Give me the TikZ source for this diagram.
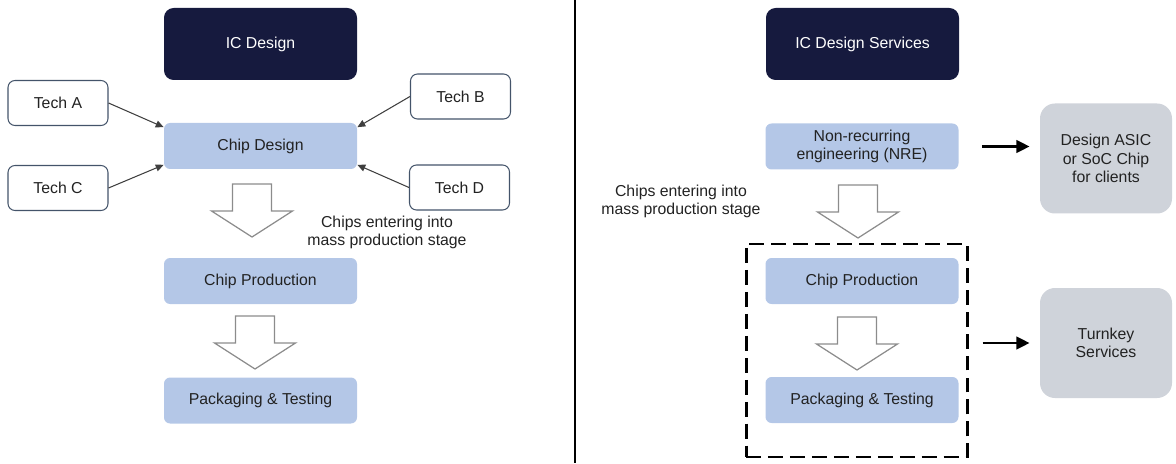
\documentclass[tikz,border=0pt]{standalone}
\usepackage{fontspec}
\setmainfont{Liberation Sans}
\usetikzlibrary{arrows.meta, positioning}
\definecolor{icnavy}{HTML}{161A3E}
\definecolor{stageblue}{HTML}{B4C7E7}
\definecolor{outgrey}{HTML}{CFD3DA}
\definecolor{techedge}{HTML}{44546A}
\definecolor{feedgray}{HTML}{3F3F3F}
\definecolor{hollowgray}{HTML}{8C8C8C}
\definecolor{txtdark}{HTML}{222222}

\begin{document}
\begin{tikzpicture}[
  >={Triangle[length=4.5pt, width=4pt]},
  font=\fontsize{9}{10.5}\selectfont,
  every node/.style={text=txtdark},
  header/.style={fill=icnavy, rounded corners=5.5pt, minimum width=3.86cm,
    minimum height=1.44cm, text=white},
  stage/.style={fill=stageblue, rounded corners=3.5pt, minimum width=3.86cm,
    minimum height=0.92cm, align=center},
  tech/.style={draw=techedge, line width=0.6pt, fill=white, rounded corners=4pt,
    minimum width=2.0cm, minimum height=0.9cm},
  outcome/.style={fill=outgrey, rounded corners=8.5pt, minimum width=2.64cm,
    minimum height=2.2cm, align=center},
  note/.style={align=center},
  feed/.style={->, line width=0.6pt, draw=feedgray},
  bigflow/.style={-{Triangle[length=7.5pt, width=7pt]}, line width=1.7pt},
  hollow/.style={draw=hollowgray, line width=0.7pt, fill=white, line join=miter},
  downblock/.pic={
    \draw[hollow] (-0.39,0) -- (0.39,0) -- (0.39,-0.54) -- (0.81,-0.54)
      -- (0,-1.06) -- (-0.81,-0.54) -- (-0.39,-0.54) -- cycle;
  },
]
\useasboundingbox (0,0) rectangle (23.52,9.26);

% ========================================
% Left panel: IC Design
% ========================================
\node[header] (icdesign) at (5.21,8.38) {IC Design};
\node[stage] (chipdesign) at (5.21,6.34) {Chip Design};

\node[tech] (techa) at (1.16,7.20) {Tech A};
\node[tech] (techb) at (9.21,7.33) {Tech B};
\node[tech] (techc) at (1.16,5.50) {Tech C};
\node[tech] (techd) at (9.19,5.51) {Tech D};

\draw[feed] (techa.east) -- (chipdesign.169);
\draw[feed] (techc.east) -- (chipdesign.191);
\draw[feed] (techb.west) -- (chipdesign.11);
\draw[feed] (techd.west) -- (chipdesign.349);

\pic at (5.04,5.58) {downblock};
\node[note] (massnotel) at (7.74,4.61)
  {Chips entering into\\mass production stage};

\node[stage] (prodl) at (5.21,3.64) {Chip Production};
\pic at (5.10,2.94) {downblock};
\node[stage] (packl) at (5.21,1.25) {Packaging \& Testing};

% ========================================
% Divider
% ========================================
\draw[line width=1.2pt] (11.50,9.26) -- (11.50,0);

% ========================================
% Right panel: IC Design Services
% ========================================
\node[header] (icservices) at (17.25,8.38) {IC Design Services};
\node[stage] (nre) at (17.24,6.33) {Non-recurring\\engineering (NRE)};
\node[outcome] (asic) at (22.12,6.09) {Design ASIC\\or SoC Chip\\for clients};

\draw[bigflow, shorten <=0.46cm, shorten >=0.2cm]
  (nre.east) -- (nre.east -| asic.west);

\node[note] (massnoter) at (13.62,5.23)
  {Chips entering into\\mass production stage};
\pic at (17.16,5.56) {downblock};

% Turnkey group
\node[draw, line width=1.7pt, dash pattern=on 8.5pt off 4pt,
  minimum width=4.42cm, minimum height=4.26cm, inner sep=0pt]
  (turnkeygroup) at (17.13,2.25) {};
\node[stage] (prodr) at (17.24,3.64) {Chip Production};
\pic at (17.14,2.92) {downblock};
\node[stage] (packr) at (17.24,1.26) {Packaging \& Testing};

\node[outcome] (turnkey) at (22.12,2.40) {Turnkey\\Services};
\draw[bigflow, shorten <=0.28cm, shorten >=0.2cm]
  (turnkeygroup.east |- turnkey.west) -- (turnkey.west);

\end{tikzpicture}
\end{document}
